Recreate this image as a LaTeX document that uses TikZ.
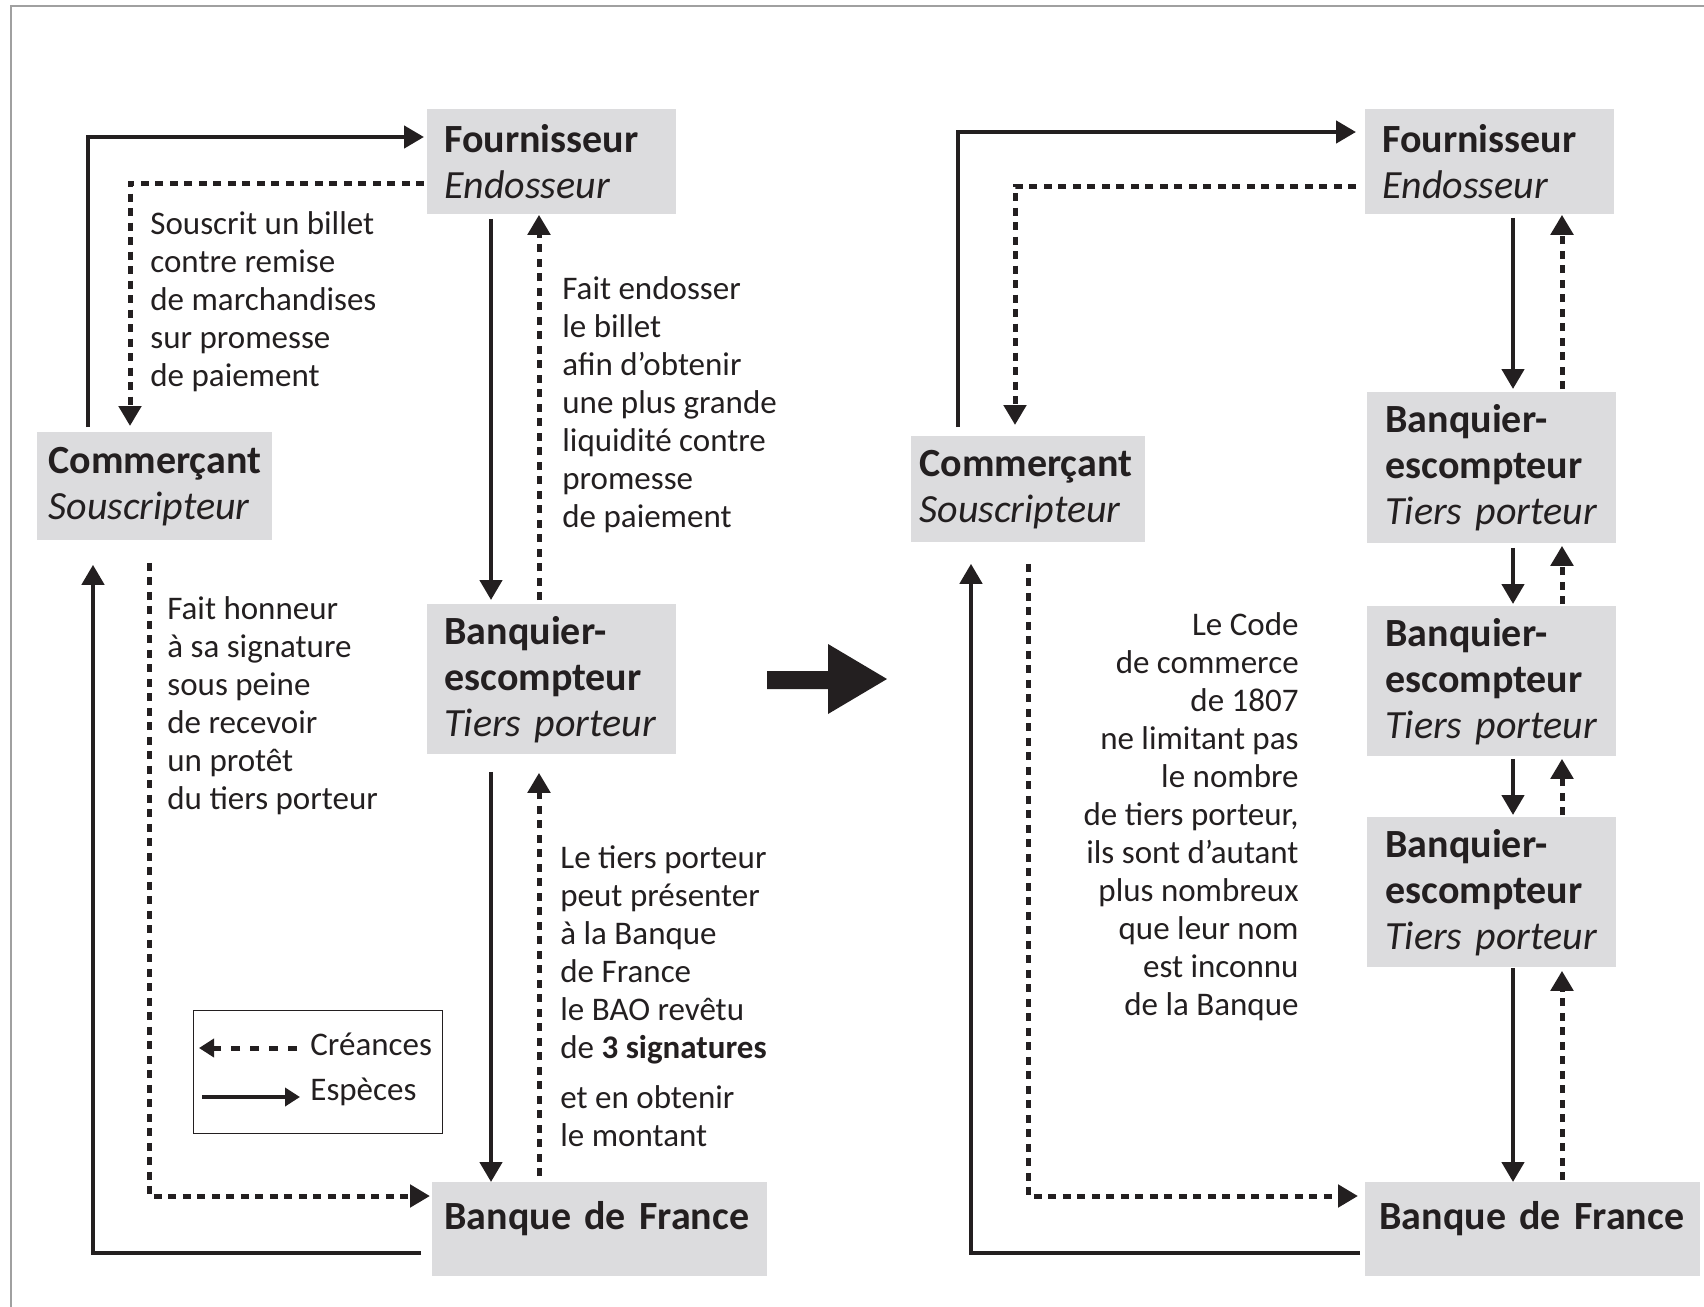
\documentclass[tikz,border=0pt]{standalone}
\usepackage{fontspec}
\setmainfont{Carlito}
\usetikzlibrary{arrows.meta}
\definecolor{ink}{HTML}{231F20}
\definecolor{boxgray}{HTML}{DCDCDE}
\definecolor{framegray}{HTML}{A0A0A0}
\begin{document}
\begin{tikzpicture}[x=0.5pt,y=-0.5pt,
  every node/.style={text=ink},
  box/.style={fill=boxgray, anchor=north west, inner ysep=0pt, align=left,
    font=\fontsize{20pt}{23pt}\selectfont},
  note/.style={anchor=base west, inner sep=0pt, align=left,
    font=\fontsize{16.5pt}{19pt}\selectfont},
  lin/.style={draw=ink, line width=2.25pt},
  esp/.style={lin, -{Triangle[length=10pt,width=11pt]}},
  cre/.style={lin, line width=2.5pt, dash pattern=on 4pt off 3.25pt, -{Triangle[length=10pt,width=11pt]}},
  lesp/.style={lin, -{Triangle[length=7.5pt,width=9pt]}},
  lcre/.style={lin, line width=2.5pt, dash pattern=on 4.5pt off 5pt, -{Triangle[length=7.5pt,width=9pt]}},
]
\useasboundingbox (0,0) rectangle (1704,1307);
\draw[framegray, line width=1.2pt] (11,1320) -- (11,6) -- (1720,6);

% ---------- left diagram: boxes ----------
\node[box, minimum width=124.5pt, minimum height=52.5pt, inner xsep=8.5pt, text width=107.5pt]
  (lfour) at (427,109) {\textbf{Fournisseur}\\\textit{Endosseur}};
\node[box, minimum width=117.5pt, minimum height=54pt, inner xsep=5.5pt, text width=106.5pt]
  (lcomm) at (37,432) {\textbf{Commerçant}\\\textit{Souscripteur}};
\node[box, minimum width=124.5pt, minimum height=75pt, inner xsep=8.5pt, text width=107.5pt]
  (lbanq) at (427,604) {\textbf{Banquier-}\\\textbf{escompteur}\\\textit{Tiers porteur}};
\node[box, minimum width=167.5pt, minimum height=47pt, inner xsep=6pt, text width=155.5pt,
  text height=12pt, text depth=11.5pt]
  (lbdf) at (432,1182) {\mbox{\textbf{Banque de France}}};

% ---------- left diagram: texts (anchored at the baseline of their last line) ----------
\node[note] (ltxtA) at (150,386) {Souscrit un billet\\contre remise\\de marchandises\\sur promesse\\de paiement};
\node[note] (ltxtB) at (562,527) {Fait endosser\\le billet\\afin d’obtenir\\une plus grande\\liquidité contre\\promesse\\de paiement};
\node[note] (ltxtC) at (167,809) {Fait honneur\\à sa signature\\sous peine\\de recevoir\\un protêt\\du tiers porteur};
\node[note] (ltxtD) at (560,1058) {Le tiers porteur\\peut présenter\\à la Banque\\de France\\le BAO revêtu\\de \textbf{3 signatures}};
\node[note] (ltxtE) at (560,1146) {et en obtenir\\le montant};

% ---------- left diagram: connectors ----------
\draw[esp, shorten <=2.5pt] (lcomm.north -| 88,0) |- ([xshift=-1.5pt]lfour.west |- 0,137);
\draw[cre] ([xshift=-1.5pt]lfour.west |- 0,183) -| ([yshift=3pt]lcomm.north -| 130,0);
\draw[esp, shorten <=2pt] (lfour.south -| 491,0) -- ([yshift=2pt]lbanq.north -| 491,0);
\draw[cre] ([yshift=2pt]lbanq.north -| 539,0) -- (lfour.south -| 539,0);
\draw[esp, shorten <=8.5pt] (lbanq.south -| 491,0) -- (lbdf.north -| 491,0);
\draw[cre, shorten <=3pt] (lbdf.north -| 539,0) -- ([yshift=-9pt]lbanq.south -| 539,0);
\draw[cre, shorten <=11pt] (lcomm.south -| 149,0) |- ([xshift=-1pt]lbdf.west |- 0,1196);
\draw[esp] ([xshift=-5.5pt]lbdf.west |- 0,1253) -| ([yshift=-12pt]lcomm.south -| 93,0);

% ---------- legend ----------
\node[draw=ink, line width=0.7pt, anchor=north west, inner sep=0pt,
  minimum width=124.5pt, minimum height=61.5pt] (legend) at (193,1010) {};
\coordinate (lgA1) at (297,1048);
\coordinate (lgA2) at (199,1048);
\coordinate (lgB1) at (202,1097);
\coordinate (lgB2) at (300,1097);
\draw[lcre] (lgA1) -- (lgA2);
\draw[lesp] (lgB1) -- (lgB2);
\node[note] (lgC) at (310,1055) {Créances};
\node[note] (lgE) at (310,1100) {Espèces};

% ---------- big arrow ----------
\fill[ink] (767,671) -- (828,671) -- (828,644) -- (887,679) -- (828,714) -- (828,689) -- (767,689) -- cycle;

% ---------- right diagram: boxes ----------
\node[box, minimum width=124.5pt, minimum height=52.5pt, inner xsep=8.5pt, text width=107.5pt]
  (rfour) at (1365,109) {\textbf{Fournisseur}\\\textit{Endosseur}};
\node[box, minimum width=117pt, minimum height=53pt, inner xsep=4pt, text width=109pt]
  (rcomm) at (911,436) {\textbf{Commerçant}\\\textit{Souscripteur}};
\node[box, minimum width=124.5pt, minimum height=75.5pt, inner xsep=9pt, text width=106.5pt]
  (rbA) at (1367,392) {\textbf{Banquier-}\\\textbf{escompteur}\\\textit{Tiers porteur}};
\node[box, minimum width=124.5pt, minimum height=75pt, inner xsep=9pt, text width=106.5pt]
  (rbB) at (1367,606) {\textbf{Banquier-}\\\textbf{escompteur}\\\textit{Tiers porteur}};
\node[box, minimum width=124.5pt, minimum height=75pt, inner xsep=9pt, text width=106.5pt]
  (rbC) at (1367,817) {\textbf{Banquier-}\\\textbf{escompteur}\\\textit{Tiers porteur}};
\node[box, minimum width=167.5pt, minimum height=47pt, inner xsep=7pt, text width=153.5pt,
  text height=12pt, text depth=11.5pt]
  (rbdf) at (1365,1182) {\mbox{\textbf{Banque de France}}};

% ---------- right diagram: text ----------
\node[note, anchor=base east, align=right] (rtxt) at (1299,1015)
  {Le Code\\de commerce\\de 1807\\ne limitant pas\\le nombre\\de tiers porteur,\\ils sont d’autant\\plus nombreux\\que leur nom\\est inconnu\\de la Banque};

% ---------- right diagram: connectors ----------
\draw[esp, shorten <=4.5pt] (rcomm.north -| 958,0) |- ([xshift=-4.5pt]rfour.west |- 0,132);
\draw[cre] ([xshift=-4.5pt]rfour.west |- 0,186) -| ([yshift=5.5pt]rcomm.north -| 1015,0);
\draw[esp, shorten <=1.5pt] (rfour.south -| 1513,0) -- ([yshift=1.5pt]rbA.north -| 1513,0);
\draw[cre] ([yshift=1.5pt]rbA.north -| 1562,0) -- (rfour.south -| 1562,0);
\draw[esp, shorten <=2pt] (rbA.south -| 1513,0) -- ([yshift=1pt]rbB.north -| 1513,0);
\draw[cre] ([yshift=1pt]rbB.north -| 1562,0) -- ([yshift=-1pt]rbA.south -| 1562,0);
\draw[esp, shorten <=1pt] (rbB.south -| 1513,0) -- ([yshift=1pt]rbC.north -| 1513,0);
\draw[cre] ([yshift=1pt]rbC.north -| 1562,0) -- ([yshift=-1pt]rbB.south -| 1562,0);
\draw[esp] (rbC.south -| 1513,0) -- (rbdf.north -| 1513,0);
\draw[cre, shorten <=1pt] (rbdf.north -| 1562,0) -- ([yshift=-1.5pt]rbC.south -| 1562,0);
\draw[cre, shorten <=10.5pt] (rcomm.south -| 1028,0) |- ([xshift=-3.5pt]rbdf.west |- 0,1196);
\draw[esp] ([xshift=-2.5pt]rbdf.west |- 0,1253) -| ([yshift=-10.5pt]rcomm.south -| 971,0);
\end{tikzpicture}
\end{document}
